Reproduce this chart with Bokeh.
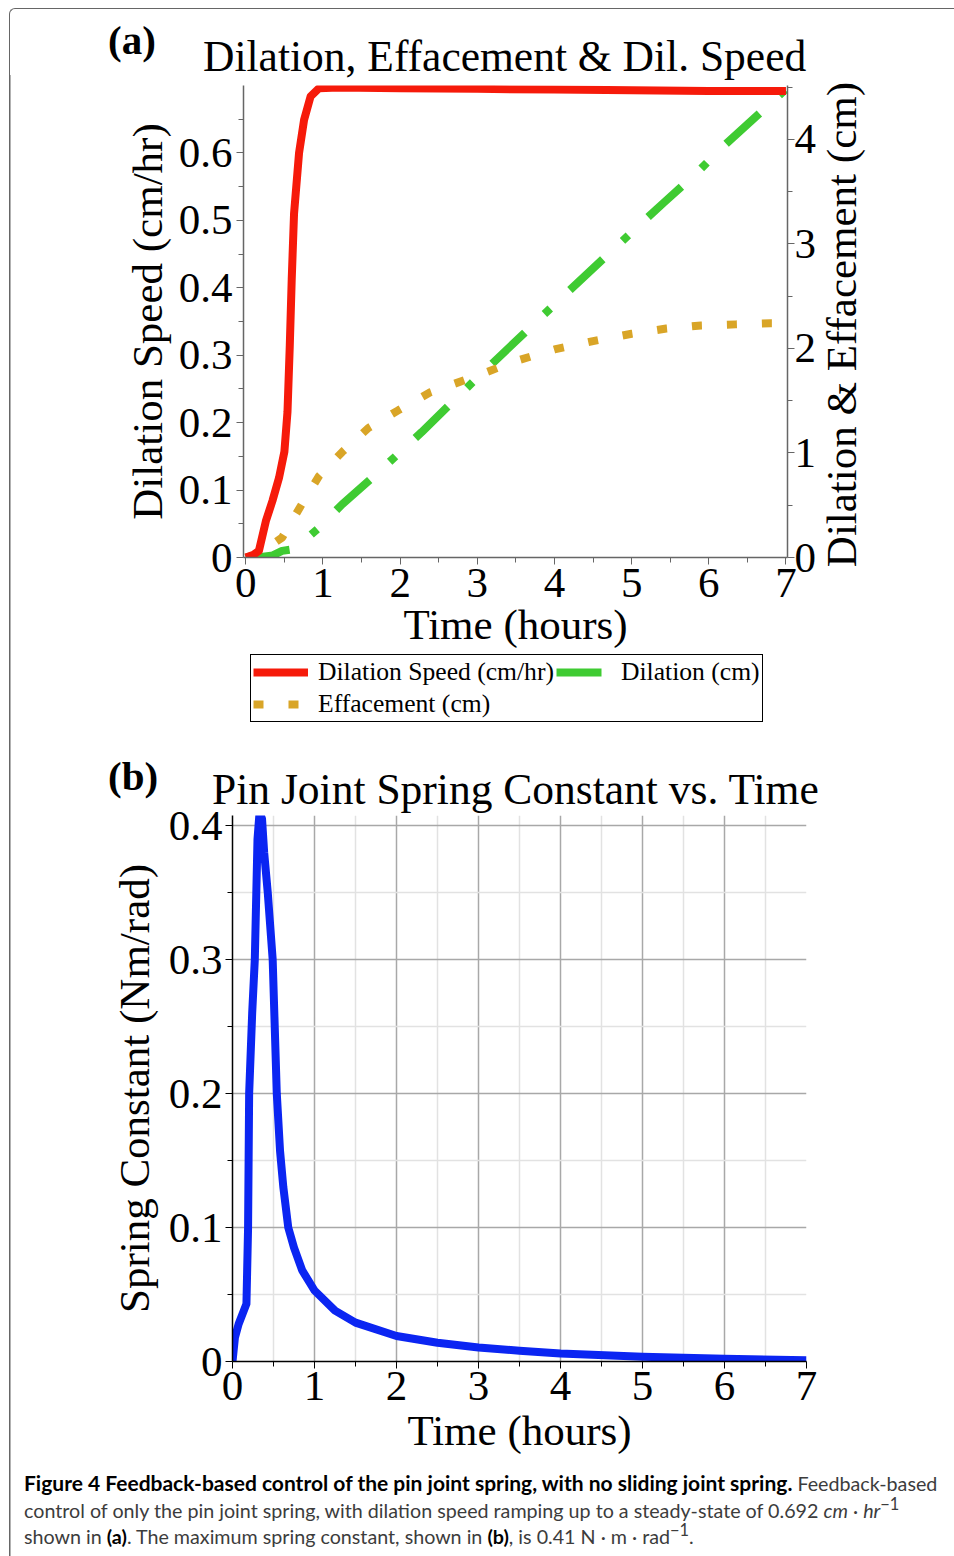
import math
from bokeh.plotting import figure
from bokeh.models import Range1d, LinearAxis, FixedTicker, Legend, LegendItem, Div
from bokeh.layouts import row
from bokeh.embed import file_html
from bokeh.resources import INLINE

SERIF = "Liberation Serif"

# ---------------- data: panel (a) ----------------
speed_t = [0.0, 0.1, 0.17, 0.26, 0.345, 0.43, 0.5, 0.54, 0.57, 0.595, 0.625, 0.69, 0.755, 0.84, 0.95, 1.2, 2.0, 3.0, 4.0, 5.0, 6.0, 7.0]
speed_v = [0.0, 0.004, 0.01, 0.054, 0.084, 0.118, 0.157, 0.216, 0.315, 0.413, 0.51, 0.6, 0.649, 0.684, 0.696, 0.697, 0.696, 0.695, 0.694, 0.693, 0.692, 0.692]

dil_t = [0.0, 0.2, 0.35, 0.47, 0.62, 0.8, 0.95, 1.25, 1.68, 2.28, 3.0, 4.0, 5.1, 5.41, 5.86, 6.14, 7.0]
dil_v = [0.0, 0.005, 0.02, 0.063, 0.08, 0.19, 0.285, 0.51, 0.79, 1.2, 1.72, 2.42, 3.18, 3.39, 3.69, 3.9, 4.48]

eff_t = [0.0, 0.15, 0.47, 0.71, 0.95, 1.25, 1.59, 1.98, 2.39, 3.0, 3.5, 4.0, 4.5, 5.0, 5.45, 5.9, 6.35, 6.8, 7.0]
eff_v = [0.0, 0.03, 0.19, 0.49, 0.78, 1.01, 1.24, 1.41, 1.58, 1.74, 1.88, 1.99, 2.07, 2.14, 2.19, 2.22, 2.23, 2.24, 2.24]

# ---------------- data: panel (b) ----------------
spring_t = [0.0, 0.03, 0.075, 0.17, 0.19, 0.203, 0.24, 0.272, 0.305, 0.33, 0.36, 0.386, 0.43, 0.49, 0.54, 0.58, 0.62, 0.68, 0.75, 0.85, 1.0, 1.25, 1.5, 2.0, 2.5, 3.0, 3.5, 4.0, 5.0, 6.0, 7.0]
spring_k = [0.0, 0.018, 0.028, 0.043, 0.1, 0.2, 0.26, 0.3, 0.39, 0.41, 0.405, 0.38, 0.35, 0.3, 0.2, 0.157, 0.13, 0.1, 0.085, 0.068, 0.053, 0.038, 0.029, 0.019, 0.014, 0.0105, 0.008, 0.006, 0.0035, 0.002, 0.001]

x_ticks = [0, 1, 2, 3, 4, 5, 6, 7]
x_minor = [0.5, 1.5, 2.5, 3.5, 4.5, 5.5, 6.5]
speed_ticks = [0, 0.1, 0.2, 0.3, 0.4, 0.5, 0.6]
speed_minor = [0.05, 0.15, 0.25, 0.35, 0.45, 0.55, 0.65]
cm_ticks = [0, 1, 2, 3, 4]
cm_minor = [0.5, 1.5, 2.5, 3.5, 4.5]
k_ticks = [0, 0.1, 0.2, 0.3, 0.4]
k_minor = [0.05, 0.15, 0.25, 0.35]

panel_tags = ["(a)", "(b)"]
titles = ["Dilation, Effacement &amp; Dil. Speed", "Pin Joint Spring Constant vs. Time"]
right_axis_label = "Dilation &amp; Effacement (cm)"
series_names = ["Dilation Speed (cm/hr)", "Dilation (cm)", "Effacement (cm)"]

RED = "#F61A0A"
GREEN = "#3FCB32"
ORANGE = "#D9A527"
BLUE = "#0B25F2"
AX = "#666666"
W = 954
WA = 820  # width of the panel (a) canvas; the rest holds its right-axis title
FRAME_LINE = {"background": "linear-gradient(#666666, #666666) 9px 0 / 1.5px 100% no-repeat"}


def style_axis(ax, label, color=AX):
    ax.axis_label = label
    ax.axis_label_text_font = SERIF
    ax.axis_label_text_font_size = "43px"
    ax.axis_label_text_font_style = "normal"
    ax.axis_label_text_color = "black"
    ax.major_label_text_font = SERIF
    ax.major_label_text_font_size = "43px"
    ax.major_label_text_color = "black"
    ax.axis_line_color = color
    ax.axis_line_width = 1.5
    ax.major_tick_line_color = color
    ax.minor_tick_line_color = color
    ax.major_tick_in = 0
    ax.major_tick_out = 7
    ax.minor_tick_in = 0
    ax.minor_tick_out = 5


def title_div(tag, title, height, tag_top, title_left, title_top, corner):
    box = ""
    if corner:
        box = (f'<div style="position:absolute; left:9px; top:8px; width:1200px; height:{height - 8}px; '
               'border-top:1.5px solid #666; border-left:1.5px solid #666; border-top-left-radius:6px;"></div>')
    html = (f'<div style="position:relative; width:{W}px; height:{height}px;">{box}'
            f'<span style="position:absolute; left:108px; top:{tag_top}px; font-family:\'{SERIF}\'; '
            f'font-weight:bold; font-size:41px; line-height:41px; color:#000; white-space:nowrap;">{tag}</span>'
            f'<span style="position:absolute; left:{title_left}px; top:{title_top}px; font-family:\'{SERIF}\'; '
            f'font-size:43.5px; line-height:44px; color:#000; white-space:nowrap;">{title}</span></div>')
    st = {} if corner else dict(FRAME_LINE)
    return Div(text=html, width=W, height=height, margin=0, styles=st)


# ---------------- panel (a) ----------------
div_a = title_div(panel_tags[0], titles[0], 75, 20, 203, 34, True)

pa = figure(width=WA, height=575, x_range=Range1d(-0.03, 7.02), y_range=Range1d(0, 0.70),
            output_backend="svg", toolbar_location=None,
            min_border_left=243, min_border_right=WA - 787, min_border_top=10, min_border_bottom=90,
            styles=FRAME_LINE)
pa.extra_y_ranges = {"cm": Range1d(0, 4.515)}
pa.outline_line_color = None
pa.border_fill_color = None
pa.xgrid.visible = False
pa.ygrid.visible = False

pa.line(dil_t, dil_v, y_range_name="cm", line_color=GREEN, line_width=8, line_dash="45 27 8 27")
pa.line(eff_t, eff_v, y_range_name="cm", line_color=ORANGE, line_width=8, line_dash="10 25")
pa.line(speed_t, speed_v, line_color=RED, line_width=8, line_join="round")

style_axis(pa.xaxis[0], "Time (hours)")
pa.xaxis[0].ticker = FixedTicker(ticks=x_ticks, minor_ticks=x_minor)
pa.xaxis[0].major_label_standoff = 4
pa.xaxis[0].axis_label_standoff = 1
style_axis(pa.yaxis[0], "Dilation Speed (cm/hr)")
pa.yaxis[0].ticker = FixedTicker(ticks=speed_ticks, minor_ticks=speed_minor)
pa.yaxis[0].major_label_overrides = {0: "0"}
pa.yaxis[0].major_label_standoff = 4
pa.yaxis[0].axis_label_standoff = 5

ra = LinearAxis(y_range_name="cm")
style_axis(ra, None)
ra.ticker = FixedTicker(ticks=cm_ticks, minor_ticks=cm_minor)
ra.major_label_standoff = 0
pa.add_layout(ra, "right")

# right-axis title, reading bottom-to-top like the reference
ra_title = Div(
    text=(f'<div style="position:relative; width:{W - WA}px; height:575px;">'
          f'<span style="position:absolute; left:0px; top:7px; writing-mode:vertical-rl; transform:rotate(180deg); '
          f'font-family:\'{SERIF}\'; font-size:43px; line-height:44px; color:#000; white-space:nowrap;">'
          f'{right_axis_label}</span></div>'),
    width=W - WA, height=575, margin=0)
row_a = row(pa, ra_title, spacing=0)

# ---------------- legend strip (the legend of panel (a)) ----------------
pc = figure(width=W, height=85, x_range=Range1d(0, 1), y_range=Range1d(0, 1),
            x_axis_type=None, y_axis_type=None, output_backend="svg", toolbar_location=None,
            min_border=0, styles=FRAME_LINE)
pc.outline_line_color = None
pc.border_fill_color = None
pc.background_fill_color = None
pc.grid.visible = False
# single-point keys: they only carry the line styles for the legend swatches
s_speed = pc.line(speed_t[:1], speed_v[:1], line_color=RED, line_width=8)
s_dil = pc.line(dil_t[:1], dil_v[:1], line_color=GREEN, line_width=8, line_dash="45 27 8 27")
s_eff = pc.line(eff_t[:1], eff_v[:1], line_color=ORANGE, line_width=8, line_dash="10 25")
legend = Legend(items=[LegendItem(label=series_names[0], renderers=[s_speed]),
                       LegendItem(label=series_names[1], renderers=[s_dil]),
                       LegendItem(label=series_names[2], renderers=[s_eff])],
                orientation="horizontal", ncols=2, location=(250, 13),
                label_text_font=SERIF, label_text_font_size="25.6px", label_text_color="black",
                glyph_width=55, glyph_height=20, label_height=20, label_standoff=10,
                spacing=2, padding=2, margin=0,
                border_line_color="black", border_line_width=1.5, border_line_alpha=1)
pc.add_layout(legend)

# ---------------- panel (b) ----------------
div_b = title_div(panel_tags[1], titles[1], 68, 21, 212, 32, False)

pb = figure(width=W, height=659, x_range=Range1d(0, 7), y_range=Range1d(0, 0.4075),
            output_backend="svg", toolbar_location=None,
            min_border_left=232, min_border_right=W - 806, min_border_top=12, min_border_bottom=101,
            styles=FRAME_LINE)
pb.outline_line_color = None
pb.border_fill_color = None

pb.line(spring_t, spring_k, line_color=BLUE, line_width=8, line_join="round")

style_axis(pb.xaxis[0], "Time (hours)", color="black")
pb.xaxis[0].ticker = FixedTicker(ticks=x_ticks, minor_ticks=x_minor)
pb.xaxis[0].major_label_standoff = 3
pb.xaxis[0].axis_label_standoff = 4
style_axis(pb.yaxis[0], "Spring Constant (Nm/rad)", color="black")
pb.yaxis[0].ticker = FixedTicker(ticks=k_ticks, minor_ticks=k_minor)
pb.yaxis[0].major_label_overrides = {0: "0"}
pb.yaxis[0].major_label_standoff = 3
pb.yaxis[0].axis_label_standoff = 8

for g in (pb.xgrid[0], pb.ygrid[0]):
    g.grid_line_color = "#a8a8a8"
    g.grid_line_width = 1.5
    g.minor_grid_line_color = "#e2e2e2"
    g.minor_grid_line_width = 1.5
pb.xgrid[0].ticker = FixedTicker(ticks=x_ticks, minor_ticks=x_minor)
pb.ygrid[0].ticker = FixedTicker(ticks=k_ticks, minor_ticks=k_minor)

# ---------------- caption ----------------
caption_html = (
    '<div style="font-family: Lato, sans-serif; font-size: 19.7px; line-height: 26.5px; '
    'color: #3c3c3c; white-space: nowrap; padding: 8px 0 0 24px;">'
    '<b style="color:#000; font-size:21px;">Figure 4 Feedback-based control of the pin joint spring, with no sliding joint spring.</b>'
    ' Feedback-based<br>'
    'control of only the pin joint spring, with dilation speed ramping up to a steady-state of 0.692 '
    '<i>cm</i> &middot; <i>hr</i><sup style="line-height:0">&minus;1</sup><br>'
    'shown in <b style="color:#000">(a)</b>. The maximum spring constant, shown in <b style="color:#000">(b)</b>, '
    'is 0.41 N &middot; m &middot; rad<sup style="line-height:0">&minus;1</sup>.'
    '</div>'
)
cap = Div(text=caption_html, width=W, height=94, margin=0, styles=FRAME_LINE)

open("out.html", "w").write(file_html([div_a, row_a, pc, div_b, pb, cap], INLINE))
